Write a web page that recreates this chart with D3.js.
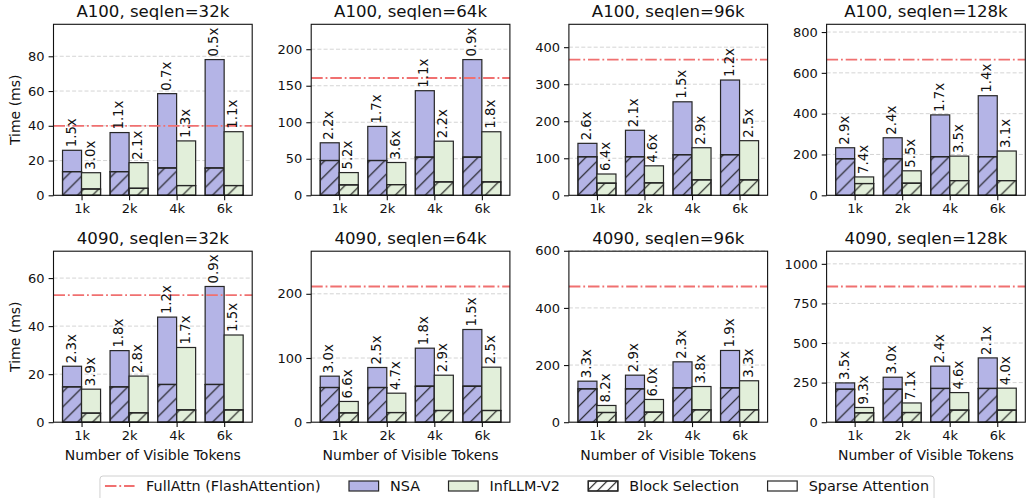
<!DOCTYPE html>
<html><head><meta charset="utf-8">
<script src="https://cdn.jsdelivr.net/npm/d3@7"></script>
<style>
html,body{margin:0;padding:0;background:#fff;}
svg{display:block;font-family:"DejaVu Sans",sans-serif;}
</style></head>
<body>
<svg id="chart" width="1026" height="498"></svg>
<script>
const categories = ["1k", "2k", "4k", "6k"];
const panelTitles = ["A100, seqlen=32k", "A100, seqlen=64k", "A100, seqlen=96k", "A100, seqlen=128k",
                     "4090, seqlen=32k", "4090, seqlen=64k", "4090, seqlen=96k", "4090, seqlen=128k"];
const fullAttn = [40, 160.6, 366.5, 665, 52.9, 211.4, 475, 857];
const nsaTotal = [[25.9, 36.1, 58.5, 78.1], [71.9, 94.3, 143.2, 185.8], [140.3, 175.6, 252.5, 311.3], [233, 282, 394, 488],
                  [23.3, 29.8, 43.75, 56.5], [71.7, 85.2, 115.3, 144.4], [143.6, 164.6, 211.3, 251], [248, 284, 354, 406]];
const nsaBlock = [[13.6, 13.6, 15.7, 15.7], [47.6, 47.6, 52.2, 52.2], [104, 104, 109.5, 109.5], [179, 179, 189, 189],
                  [14.7, 14.7, 15.7, 15.7], [54, 54, 56, 56], [116.7, 116.7, 120.2, 120.2], [208, 208, 213, 213]];
const infTotal = [[13.0, 18.8, 31.3, 36.6], [31.1, 44.9, 74.1, 87], [57.5, 79.6, 128.5, 147.5], [90, 120, 192, 217],
                  [13.75, 19.2, 31.1, 36.3], [32.3, 45.2, 73.2, 85.7], [58.5, 79.5, 124.9, 145], [93, 121.5, 187, 215]];
const infBlock = [[3.6, 4.0, 5.6, 5.6], [14.2, 14.6, 18.3, 18.3], [32.6, 33.5, 41.6, 41.6], [57.5, 59, 72, 72],
                  [3.75, 3.9, 5.1, 5.1], [14.5, 15, 18.2, 18.2], [33.9, 35, 43.2, 43.2], [59, 61, 76, 76]];
const nsaLabels = [["1.5x", "1.1x", "0.7x", "0.5x"], ["2.2x", "1.7x", "1.1x", "0.9x"], ["2.6x", "2.1x", "1.5x", "1.2x"], ["2.9x", "2.4x", "1.7x", "1.4x"],
                   ["2.3x", "1.8x", "1.2x", "0.9x"], ["3.0x", "2.5x", "1.8x", "1.5x"], ["3.3x", "2.9x", "2.3x", "1.9x"], ["3.5x", "3.0x", "2.4x", "2.1x"]];
const infLabels = [["3.0x", "2.1x", "1.3x", "1.1x"], ["5.2x", "3.6x", "2.2x", "1.8x"], ["6.4x", "4.6x", "2.9x", "2.5x"], ["7.4x", "5.5x", "3.5x", "3.1x"],
                   ["3.9x", "2.8x", "1.7x", "1.5x"], ["6.6x", "4.7x", "2.9x", "2.5x"], ["8.2x", "6.0x", "3.8x", "3.3x"], ["9.3x", "7.1x", "4.6x", "4.0x"]];
const yTicks = [[0, 20, 40, 60, 80], [0, 50, 100, 150, 200], [0, 100, 200, 300, 400], [0, 200, 400, 600, 800],
                [0, 20, 40, 60], [0, 100, 200], [0, 200, 400, 600], [0, 250, 500, 750, 1000]];
const legendLabels = ["FullAttn (FlashAttention)", "NSA", "InfLLM-V2", "Block Selection", "Sparse Attention"];

const NSA_COLOR = "#b4b4e6", INF_COLOR = "#e2efda", FA_COLOR = "#f07070", EDGE = "#262626";
const svg = d3.select("#chart");
const defs = svg.append("defs");
const hp = defs.append("pattern").attr("id", "hatch").attr("patternUnits", "userSpaceOnUse")
  .attr("width", 15).attr("height", 15);
hp.append("path").attr("d", "M0,15 L15,0 M-3.75,3.75 L3.75,-3.75 M11.25,18.75 L18.75,11.25")
  .attr("stroke", "#111").attr("stroke-width", 1.1);
const hp2 = defs.append("pattern").attr("id", "hatchLeg").attr("patternUnits", "userSpaceOnUse")
  .attr("width", 10).attr("height", 10);
hp2.append("path").attr("d", "M0,10 L10,0 M-2.5,2.5 L2.5,-2.5 M7.5,12.5 L12.5,7.5")
  .attr("stroke", "#111").attr("stroke-width", 1.1);

const left0 = 53.5, colStep = 257.7, W = 198.7, H = 171;
const rowTops = [24.3, 251.2];

panelTitles.forEach((title, p) => {
  const col = p % 4, row = Math.floor(p / 4);
  const gx = left0 + col * colStep, gy = rowTops[row];
  const g = svg.append("g").attr("transform", `translate(${gx},${gy})`);
  const ymax = d3.max([fullAttn[p], ...nsaTotal[p], ...infTotal[p]]) * 1.26;
  const x = d3.scaleLinear().domain([-0.59, 3.59]).range([0, W]);
  const y = d3.scaleLinear().domain([0, ymax]).range([H, 0]);
  const bw = x(0.4) - x(0);

  // grid
  g.append("g").selectAll("line").data(yTicks[p].filter(t => t > 0)).join("line")
    .attr("x1", 0).attr("x2", W).attr("y1", d => y(d)).attr("y2", d => y(d))
    .attr("stroke", "#cfcfcf").attr("stroke-width", 0.9).attr("stroke-dasharray", "4,2.2");

  const series = [
    {tot: nsaTotal[p], blk: nsaBlock[p], color: NSA_COLOR, off: -0.2, labels: nsaLabels[p]},
    {tot: infTotal[p], blk: infBlock[p], color: INF_COLOR, off: 0.2, labels: infLabels[p]}
  ];
  series.forEach(s => {
    const bars = g.append("g");
    categories.forEach((c, i) => {
      const x0 = x(i + s.off) - bw / 2;
      bars.append("rect").attr("x", x0).attr("width", bw)
        .attr("y", y(s.tot[i])).attr("height", y(s.blk[i]) - y(s.tot[i]))
        .attr("fill", s.color).attr("stroke", EDGE).attr("stroke-width", 1.2);
      bars.append("rect").attr("x", x0).attr("width", bw)
        .attr("y", y(s.blk[i])).attr("height", y(0) - y(s.blk[i]))
        .attr("fill", s.color).attr("stroke", EDGE).attr("stroke-width", 1.2);
      bars.append("rect").attr("x", x0).attr("width", bw)
        .attr("y", y(s.blk[i])).attr("height", y(0) - y(s.blk[i]))
        .attr("fill", "url(#hatch)").attr("stroke", EDGE).attr("stroke-width", 1.2);
    });
  });

  g.append("line").attr("x1", 0).attr("x2", W).attr("y1", y(fullAttn[p])).attr("y2", y(fullAttn[p]))
    .attr("stroke", FA_COLOR).attr("stroke-width", 1.8).attr("stroke-dasharray", "11.5,2.9,1.8,2.9");

  series.forEach(s => {
    categories.forEach((c, i) => {
      const cx = x(i + s.off) - 1, ty = y(s.tot[i]) - 3;
      g.append("text").attr("transform", `translate(${cx},${ty}) rotate(-90)`)
        .attr("text-anchor", "start").attr("dominant-baseline", "central")
        .attr("font-size", 13.3).attr("fill", "#111").text(s.labels[i]);
    });
  });

  g.append("rect").attr("x", 0).attr("y", 0).attr("width", W).attr("height", H)
    .attr("fill", "none").attr("stroke", "#111").attr("stroke-width", 1.1);

  const ya = g.append("g").call(d3.axisLeft(y).tickValues(yTicks[p]).tickSize(4.9).tickPadding(4).tickFormat(d3.format("d")));
  ya.select(".domain").remove();
  ya.selectAll("line").attr("stroke", "#111").attr("stroke-width", 1.1);
  ya.selectAll("text").attr("font-size", 13).attr("fill", "#111").attr("font-family", "DejaVu Sans");

  const xa = g.append("g").attr("transform", `translate(0,${H})`)
    .call(d3.axisBottom(x).tickValues([0, 1, 2, 3]).tickSize(4.9).tickPadding(4).tickFormat(i => categories[i]));
  xa.select(".domain").remove();
  xa.selectAll("line").attr("stroke", "#111").attr("stroke-width", 1.1);
  xa.selectAll("text").attr("font-size", 13).attr("fill", "#111").attr("font-family", "DejaVu Sans");

  g.append("text").attr("x", W / 2).attr("y", -7).attr("text-anchor", "middle")
    .attr("font-size", 16.6).attr("fill", "#111").text(title);

  if (col === 0) {
    g.append("text").attr("transform", `translate(${-33.5},${H / 2}) rotate(-90)`)
      .attr("text-anchor", "middle").attr("font-size", 14).attr("fill", "#111").text("Time (ms)");
  }
  if (row === 1) {
    g.append("text").attr("x", W / 2).attr("y", H + 38).attr("text-anchor", "middle")
      .attr("font-size", 14).attr("fill", "#111").text("Number of Visible Tokens");
  }
});

const leg = svg.append("g");
const legBox = leg.append("rect").attr("fill", "#fff").attr("fill-opacity", 0.8)
  .attr("stroke", "#d0d0d0").attr("stroke-width", 1).attr("rx", 3);
const legY = 486, handleW = 29.6, handleH = 10, gapT = 11.5, colSp = 28.4;
let cx = 0;
const items = leg.append("g");
legendLabels.forEach((lab, k) => {
  const it = items.append("g").attr("transform", `translate(${cx},0)`);
  if (k === 0) {
    it.append("line").attr("x1", 0).attr("x2", handleW).attr("y1", legY).attr("y2", legY)
      .attr("stroke", FA_COLOR).attr("stroke-width", 1.8).attr("stroke-dasharray", "11.5,2.9,1.8,2.9");
  } else {
    const fill = k === 1 ? NSA_COLOR : k === 2 ? INF_COLOR : "#fff";
    it.append("rect").attr("x", 0).attr("y", legY - handleH / 2).attr("width", handleW).attr("height", handleH)
      .attr("fill", fill).attr("stroke", EDGE).attr("stroke-width", 1.2);
    if (k === 3) {
      it.append("rect").attr("x", 0).attr("y", legY - handleH / 2).attr("width", handleW).attr("height", handleH)
        .attr("fill", "url(#hatchLeg)").attr("stroke", EDGE).attr("stroke-width", 1.2);
    }
  }
  const t = it.append("text").attr("x", handleW + gapT).attr("y", legY).attr("dominant-baseline", "central")
    .attr("font-size", 14.4).attr("fill", "#111").text(lab);
  cx += handleW + gapT + t.node().getComputedTextLength() + colSp;
});
const totalW = cx - colSp;
const startX = 517 - totalW / 2;
items.attr("transform", `translate(${startX},0)`);
legBox.attr("x", startX - 5).attr("y", 476).attr("width", totalW + 10).attr("height", 30);
</script>
</body></html>
